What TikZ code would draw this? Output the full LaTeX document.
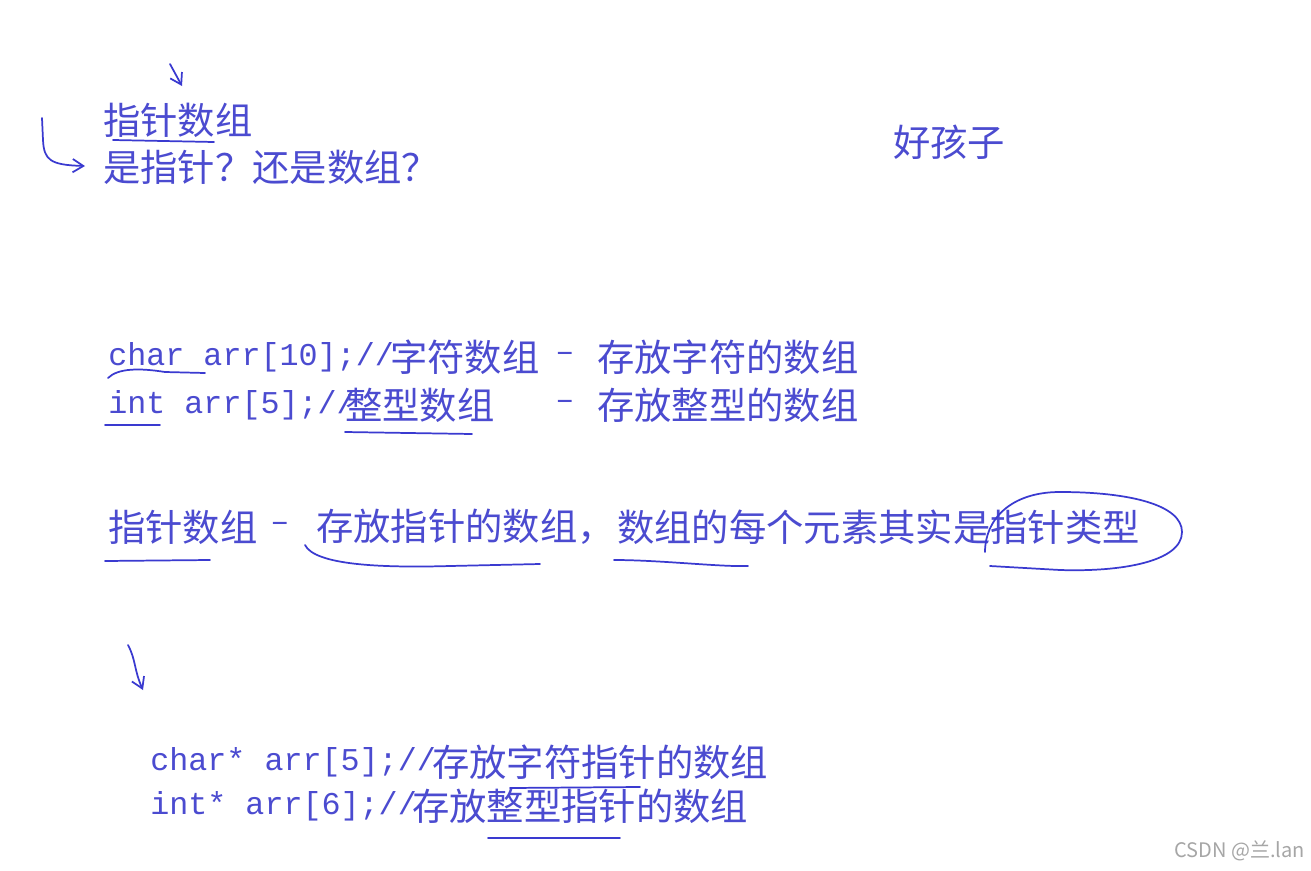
\documentclass[tikz,border=0pt]{standalone}
\usepackage{fontspec}
\setmainfont{Liberation Serif}
\newfontfamily\cjk{Noto Sans CJK SC}
\newfontfamily\monof{Liberation Mono}
\definecolor{txt}{HTML}{4B4BD0}
\definecolor{pen}{HTML}{3A3AD0}
\tikzset{
  cj/.style={anchor=west,inner sep=0pt,text=txt,font=\cjk\fontsize{28}{32}\selectfont},
  mo/.style={anchor=west,inner sep=0pt,text=txt,font=\monof\fontsize{23.8}{28}\selectfont},
  ink/.style={draw=pen,line width=1.3pt,line cap=round,line join=round},
  tip/.style={ink,-{Straight Barb[length=8pt,width=10pt]}}
}
\usetikzlibrary{arrows.meta}
\begin{document}
\begin{tikzpicture}[x=0.75pt,y=-0.75pt]
\useasboundingbox[fill=white] (0,0) rectangle (1311,871);
\node[cj] (t1) at (103,120) {指针数组};
\node[cj] (t2) at (103,167) {是指针？还是数组？};
\node[cj] (t3) at (893,142) {好孩子};
\node[mo] (a1) at (108,357) {char arr[10];//};
\node[cj] (a2) at (390,357) {字符数组};
\node[mo] (a3) at (555,357) {–};
\node[cj] (a4) at (597,357) {存放字符的数组};
\node[mo] (b1) at (108,405) {int arr[5];//};
\node[cj] (b2) at (345,405) {整型数组};
\node[mo] (b3) at (555,405) {–};
\node[cj] (b4) at (597,405) {存放整型的数组};
\node[cj] (c1) at (108,527) {指针数组};
\node[mo] (c2) at (270,527) {–};
\node[cj] (c3) at (316,527) {存放指针的数组，};
\node[cj] (c4) at (617,527) {数组的每个元素其实是指针类型};
\node[mo] (d1) at (150,762) {char* arr[5];//};
\node[cj] (d2) at (432,762) {存放字符指针的数组};
\node[mo] (e1) at (150,806) {int* arr[6];//};
\node[cj] (e2) at (412,806) {存放整型指针的数组};
\node[anchor=east,inner sep=0pt,text=gray!70,font=\cjk\fontsize{15}{18}\selectfont] (wm) at (1305,851) {CSDN @兰.lan};
% strokes
\draw[tip] (170,64) -- (176,75) -- (182,86);
\draw[ink] (113,140) -- (214,142);
\draw[tip] (42,118) -- (43,140) .. controls (44,160) and (50,165) .. (85,166);
\draw[ink] (108,378) .. controls (118,368) and (140,368) .. (165,372) -- (205,373);
\draw[ink] (105,425) -- (160,425);
\draw[ink] (345,432) -- (472,434);
\draw[ink] (105,561) -- (210,560);
\draw[ink] (305,545) .. controls (315,565) and (380,568) .. (450,566) -- (540,564);
\draw[ink] (614,560) .. controls (660,560) and (720,567) .. (748,566);
\draw[ink] (985,552) .. controls (985,520) and (1010,492) .. (1060,492)
  .. controls (1130,492) and (1182,505) .. (1182,532)
  .. controls (1182,562) and (1120,572) .. (1060,570) -- (990,566);
\draw[tip] (128,645) .. controls (136,660) and (134,670) .. (143,690);
\draw[ink] (510,788) -- (640,787);
\draw[ink] (488,838) -- (620,838);
\end{tikzpicture}
\end{document}
